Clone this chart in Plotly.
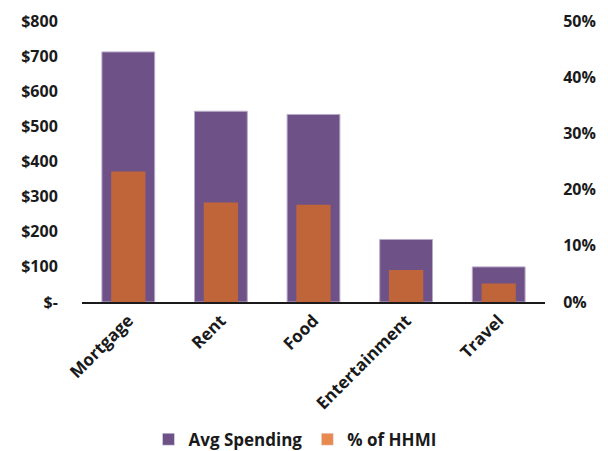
import plotly.graph_objects as go
from plotly.subplots import make_subplots

categories = ["Mortgage", "Rent", "Food", "Entertainment", "Travel"]
avg_spending = [712, 543, 534, 178, 100]
pct_hhmi = [0.232, 0.177, 0.173, 0.057, 0.033]
left_ticks = [0, 100, 200, 300, 400, 500, 600, 700, 800]
left_labels = ["$-", "$100", "$200", "$300", "$400", "$500", "$600", "$700", "$800"]
right_ticks = [0, 0.1, 0.2, 0.3, 0.4, 0.5]
right_labels = ["0%", "10%", "20%", "30%", "40%", "50%"]

PURPLE = "#6E5287"
ORANGE = "#C0643A"
ORANGE_LEG = "#E8894F"
FAM = "Open Sans"
FONT = dict(family=FAM, size=16, color="#1a1a1a", weight="bold")
FONT_X = dict(family=FAM, size=17, color="#1a1a1a", weight="bold")
FONT_L = dict(family=FAM, size=17, color="#1a1a1a", weight="bold")

fig = make_subplots(specs=[[{"secondary_y": True}]])
fig.add_trace(go.Bar(x=categories, y=avg_spending, name="Avg Spending", width=0.57,
                     marker=dict(color=PURPLE, line=dict(color="#B9A9C9", width=1)),
                     showlegend=False), secondary_y=False)
fig.add_trace(go.Bar(x=categories, y=pct_hhmi, name="% of HHMI", width=0.37,
                     marker=dict(color=ORANGE, line=dict(width=0)),
                     showlegend=False), secondary_y=True)
# legend-only entries
fig.add_trace(go.Bar(x=[categories[0]], y=[None], name="Avg Spending",
                     marker=dict(color=PURPLE), showlegend=True), secondary_y=False)
fig.add_trace(go.Bar(x=[categories[0]], y=[None], name="% of HHMI",
                     marker=dict(color=ORANGE_LEG), showlegend=True), secondary_y=True)

fig.update_layout(
    width=608, height=451, barmode="overlay",
    margin=dict(l=82, r=63, t=21, b=149, autoexpand=False),
    paper_bgcolor="white", plot_bgcolor="white",
    font=FONT,
    legend=dict(orientation="h", x=0.46, xanchor="center", y=-0.49, yanchor="middle",
                font=FONT_L, itemwidth=30, traceorder="normal"),
)
fig.update_xaxes(domain=[0, 1], tickangle=-45, showline=True, linecolor="#1a1a1a", linewidth=2,
                 tickfont=FONT_X, ticks="", showgrid=False, automargin=False)
fig.update_yaxes(range=[0, 800], tickvals=left_ticks, ticktext=left_labels, showgrid=False,
                 zeroline=False, ticks="outside", ticklen=20, tickcolor="white",
                 tickfont=FONT, automargin=False, secondary_y=False)
fig.update_yaxes(range=[0, 0.5], tickvals=right_ticks, ticktext=right_labels, showgrid=False,
                 zeroline=False, ticks="outside", ticklen=14, tickcolor="white",
                 tickfont=FONT, automargin=False, secondary_y=True)

fig.write_html("out.html")
